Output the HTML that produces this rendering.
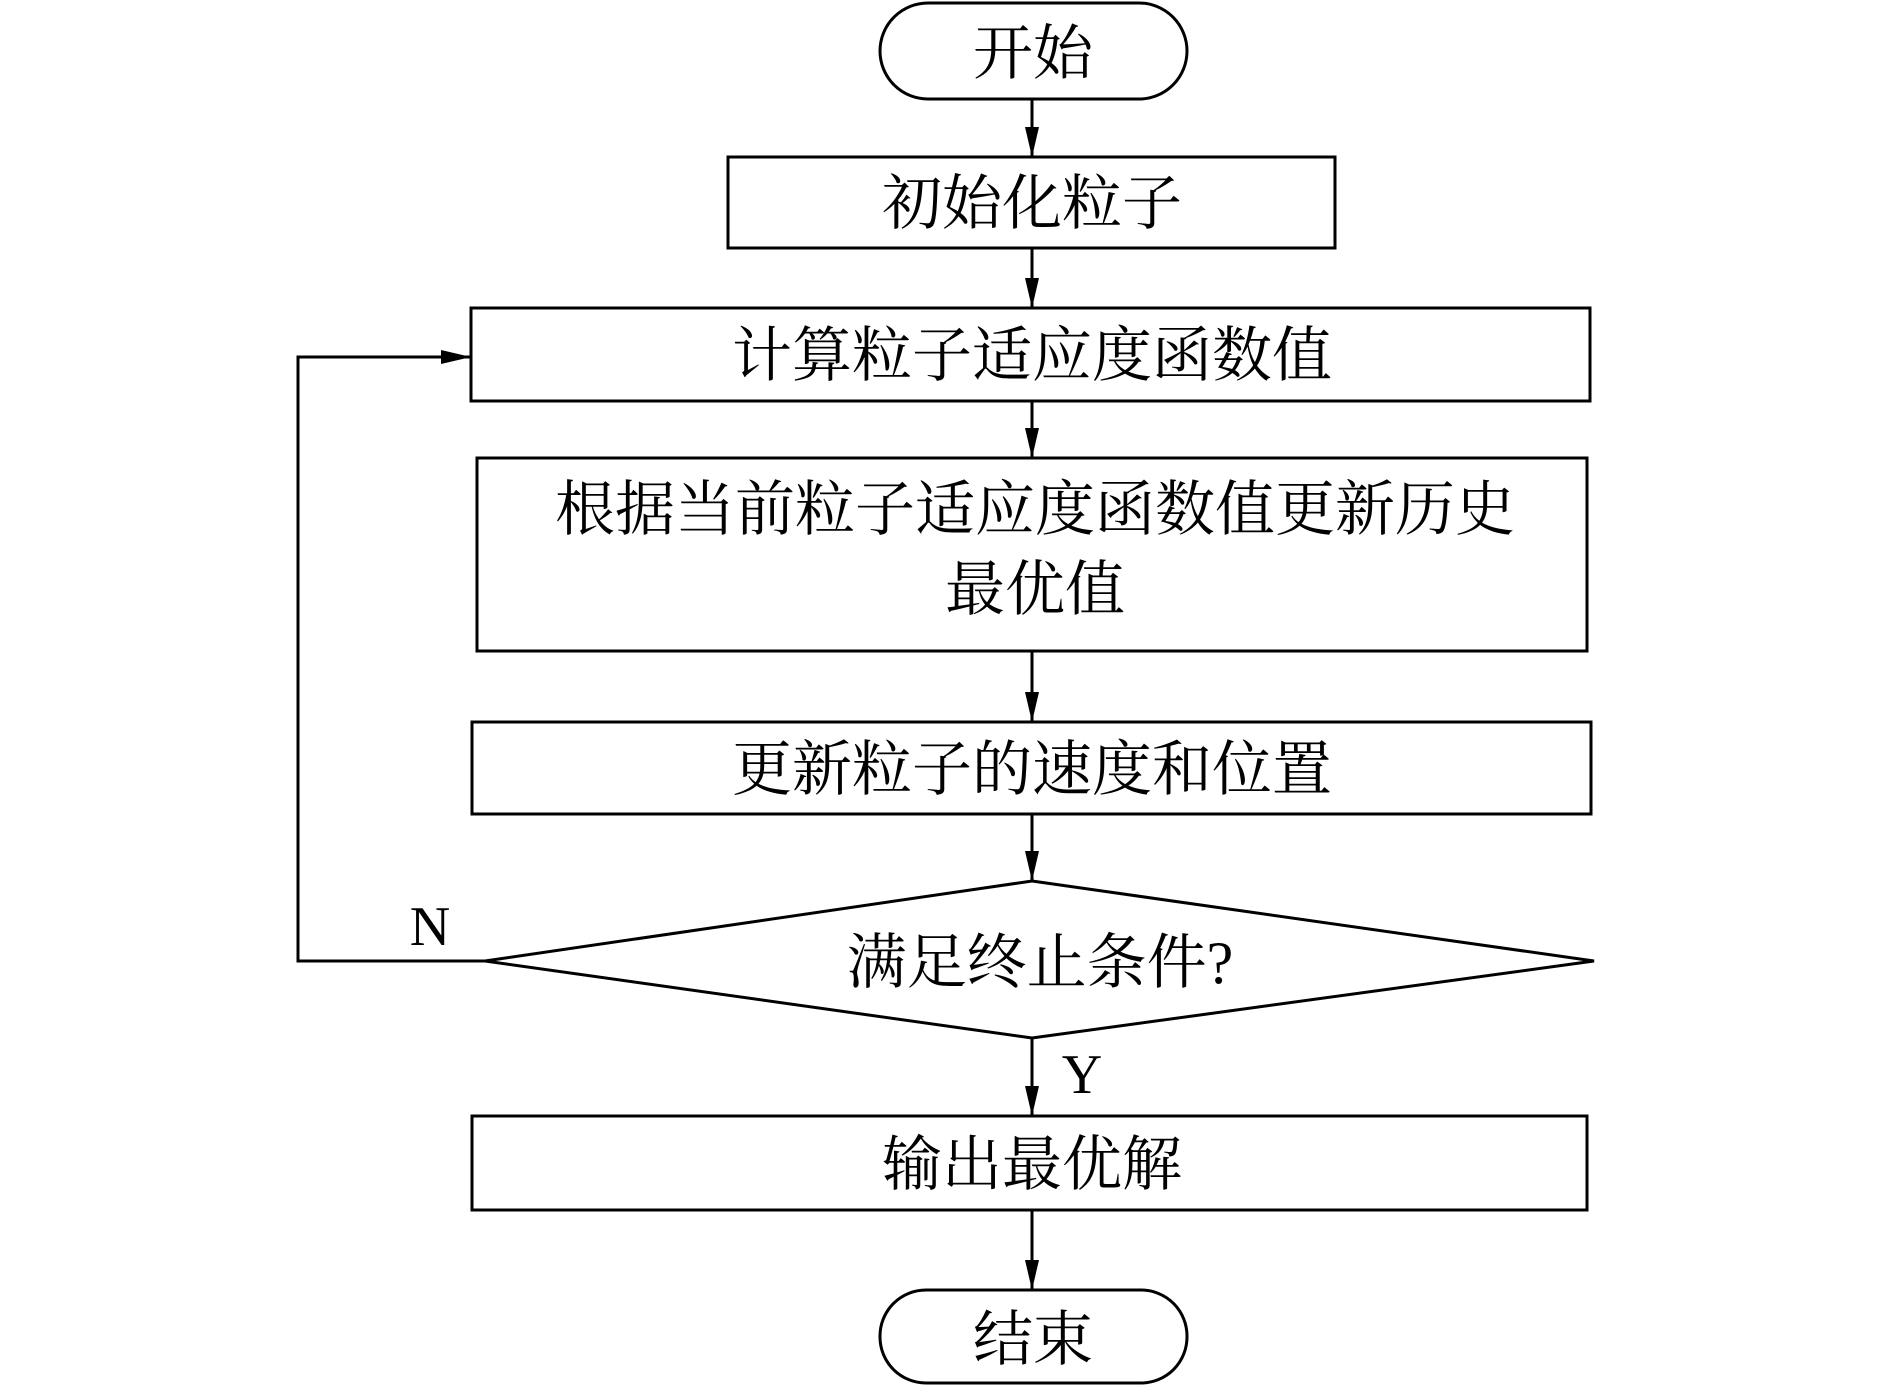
<!DOCTYPE html>
<html><head><meta charset="utf-8"><style>html,body{margin:0;padding:0;background:#fff}svg{display:block}</style></head>
<body>
<svg width="1890" height="1386" viewBox="0 0 1890 1386" xmlns="http://www.w3.org/2000/svg">
<defs><marker id="a" markerWidth="12" markerHeight="12" refX="11" refY="6" orient="auto" markerUnits="userSpaceOnUse"><path d="M0,0 L12,6 L0,12 Z" fill="#000"/></marker>
<marker id="b" viewBox="0 0 30 14" markerWidth="30" markerHeight="14" refX="30" refY="7" orient="auto" markerUnits="userSpaceOnUse"><path d="M0,0 L30,7 L0,14 Z" fill="#000"/></marker></defs>
<g fill="none" stroke="#000" stroke-width="3">
<rect x="880" y="3" width="307" height="96" rx="48"/>
<rect x="728" y="157" width="607" height="91"/>
<rect x="471" y="308" width="1119" height="93"/>
<rect x="477" y="458" width="1110" height="193"/>
<rect x="472" y="722" width="1119" height="92"/>
<polygon points="1032,881 1594,961 1032,1038 485,961"/>
<rect x="472" y="1116" width="1115" height="94"/>
<rect x="880" y="1290" width="307" height="93" rx="46"/>
<g marker-end="url(#b)">
<line x1="1032" y1="99" x2="1032" y2="157"/>
<line x1="1032" y1="248" x2="1032" y2="308"/>
<line x1="1032" y1="401" x2="1032" y2="458"/>
<line x1="1032" y1="651" x2="1032" y2="722"/>
<line x1="1032" y1="814" x2="1032" y2="881"/>
<line x1="1032" y1="1038" x2="1032" y2="1116"/>
<line x1="1032" y1="1210" x2="1032" y2="1290"/>
<polyline points="485,961 298,961 298,357 471,357"/>
</g>
</g>
<g font-family="'Liberation Serif','Noto Serif CJK SC',serif" font-size="60" text-anchor="middle" fill="#000">
<text x="1033" y="74">开始</text>
<text x="1032" y="224">初始化粒子</text>
<text x="1032" y="376">计算粒子适应度函数值</text>
<text x="1035" y="530">根据当前粒子适应度函数值更新历史</text>
<text x="1035" y="610">最优值</text>
<text x="1032" y="790">更新粒子的速度和位置</text>
<text x="1040" y="983">满足终止条件?</text>
<text x="1032" y="1185">输出最优解</text>
<text x="1033" y="1360">结束</text>
<text x="430" y="945" font-size="56">N</text>
<text x="1082" y="1093" font-size="56">Y</text>
</g>
</svg>
</body></html>
